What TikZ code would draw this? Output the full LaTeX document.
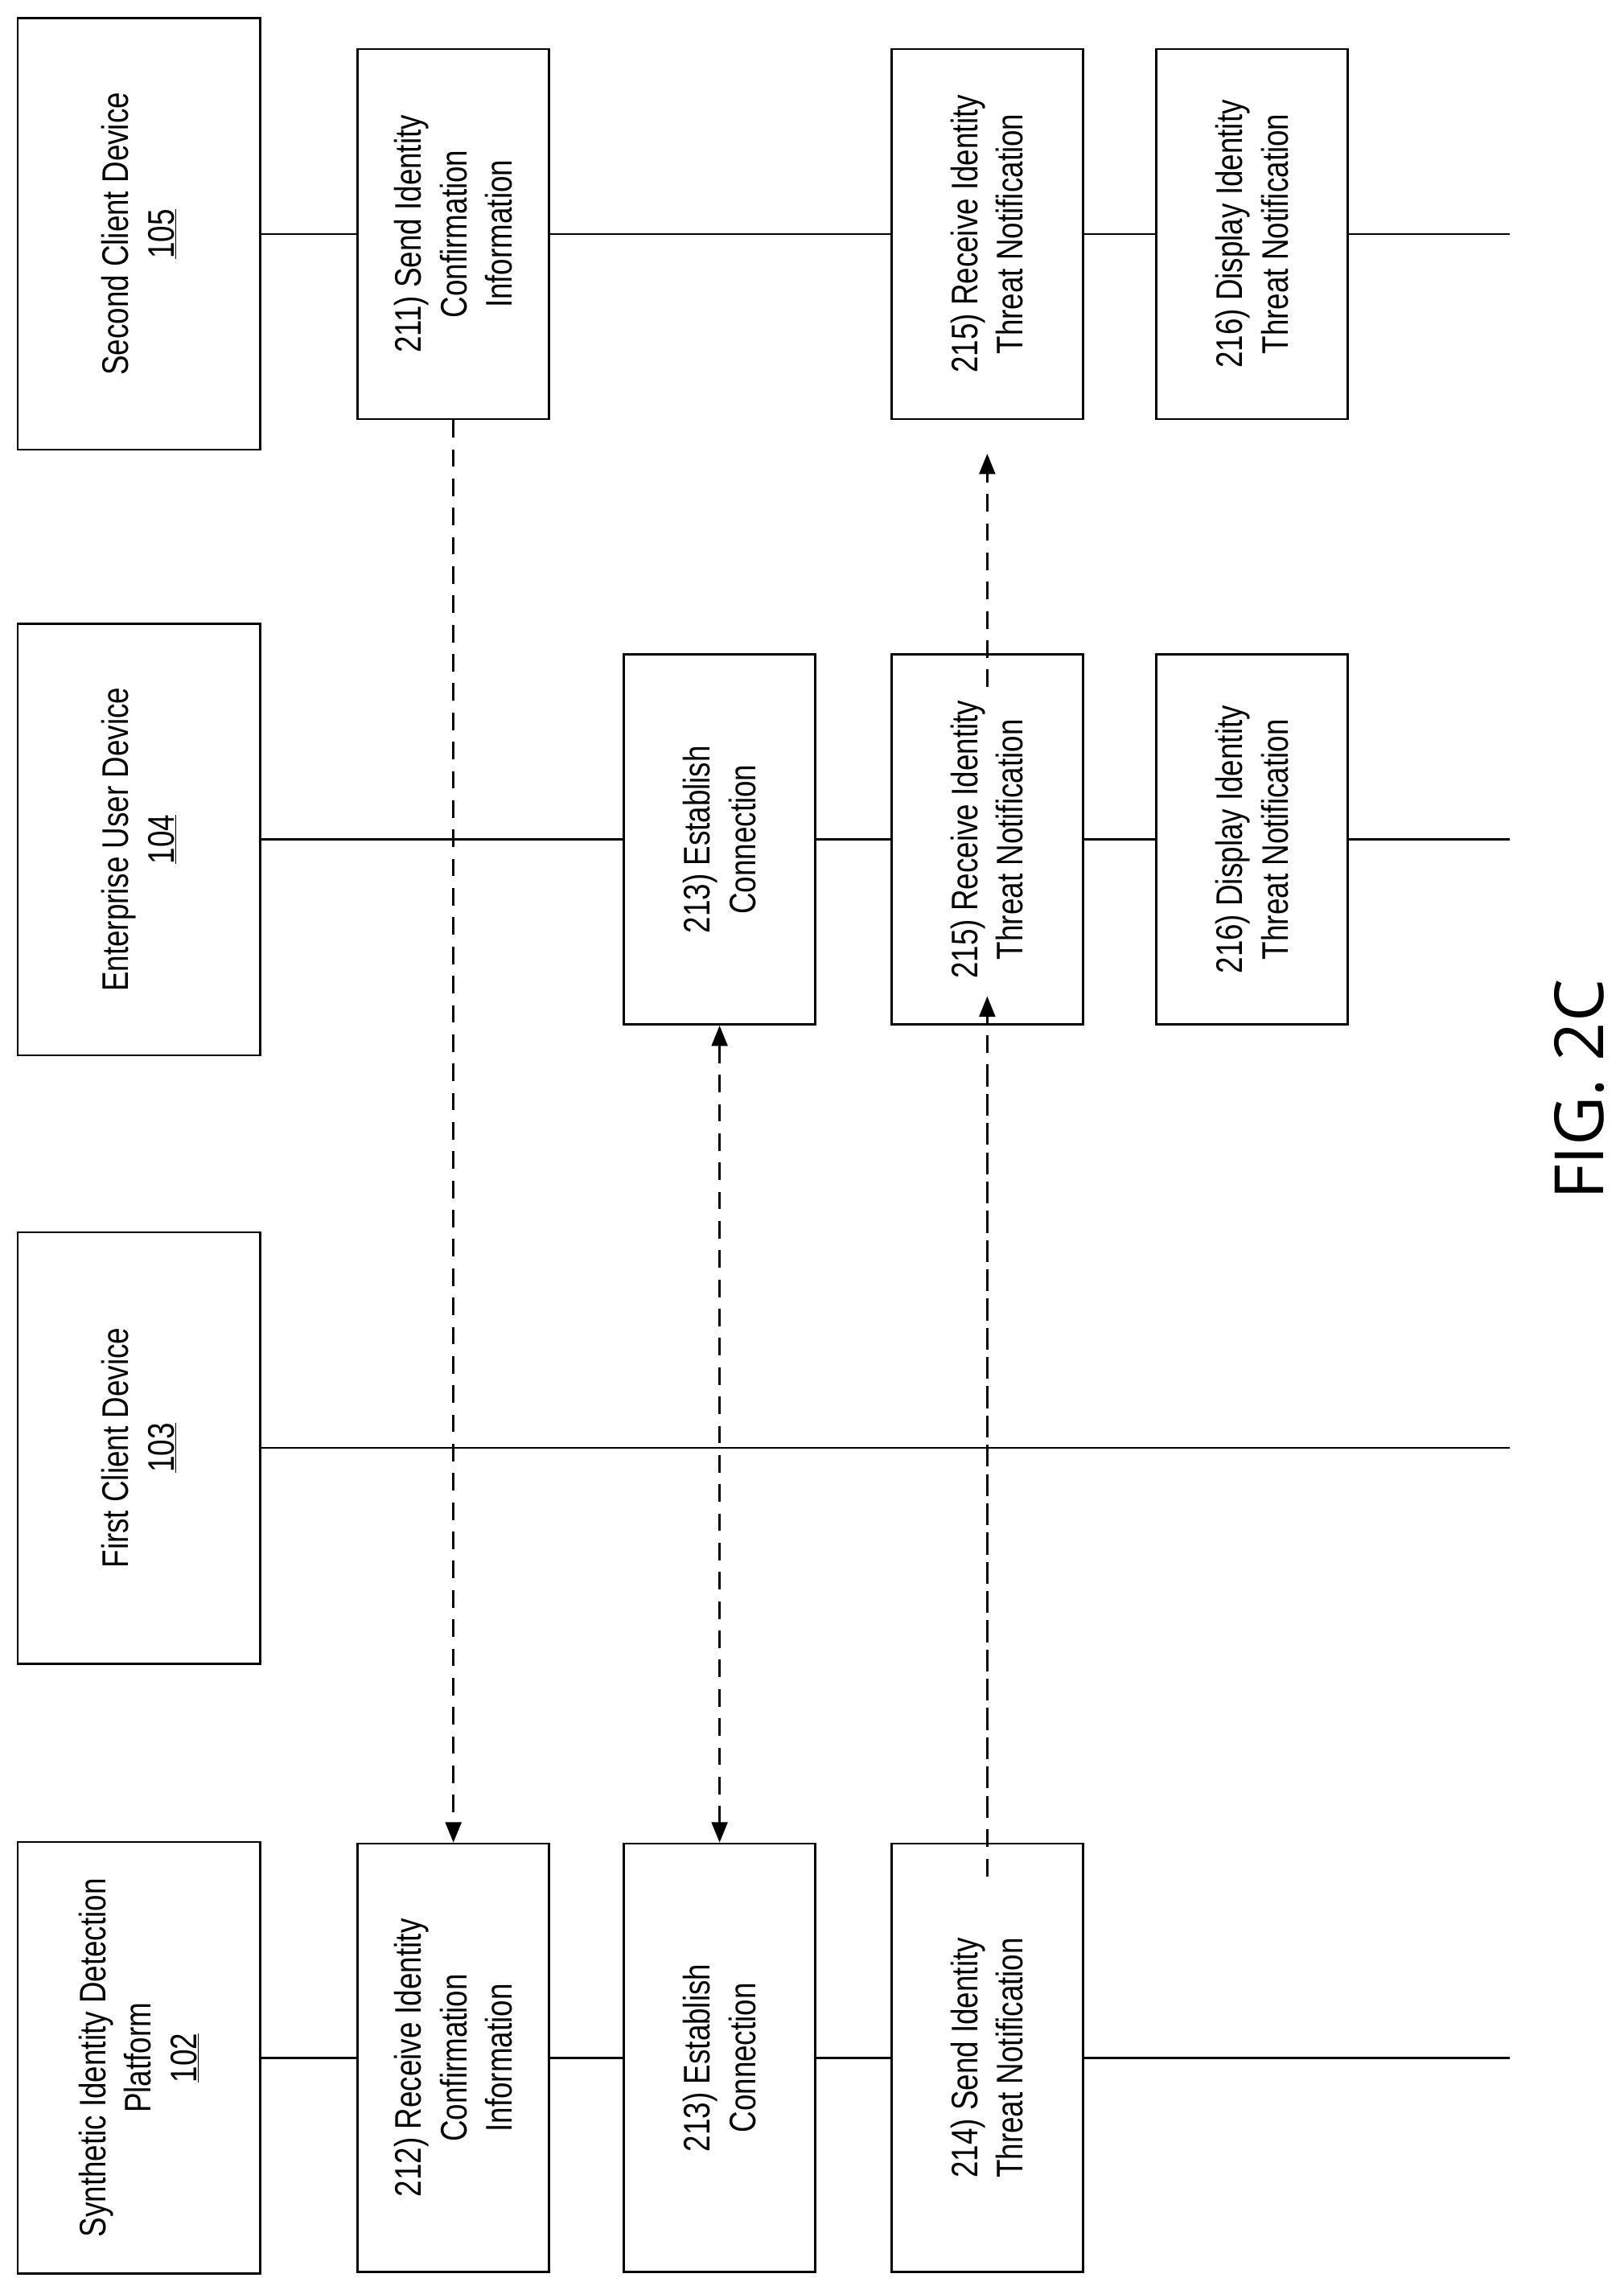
\documentclass[tikz,border=0pt]{standalone}
\usepackage{fontspec}
\setmainfont[FakeStretch=0.8]{Liberation Sans}
\newfontfamily\figfont{Open Sans}
\usetikzlibrary{arrows.meta}

\tikzset{
  dev/.style={draw, line width=2pt, fill=white, rotate=90, minimum width=14.75cm,
    minimum height=8.3cm, align=center, font=\fontsize{36}{44}\selectfont},
  act/.style={draw, line width=2pt, fill=white, rotate=90, minimum width=12.65cm,
    minimum height=6.55cm, align=center, font=\fontsize{36}{44}\selectfont},
  tall/.style={act, minimum width=14.65cm},
  life/.style={line width=2pt},
  msg/.style={line width=2pt, dash pattern=on 0.6cm off 0.4cm, -{Triangle[length=0.7cm,width=0.55cm]}},
  msgb/.style={msg, {Triangle[length=0.7cm,width=0.55cm]}-{Triangle[length=0.7cm,width=0.55cm]}},
}

\begin{document}
\begin{tikzpicture}[x=0.05cm, y=-0.05cm]
    \useasboundingbox (0,0) rectangle (1110,1563);

    % lifelines
    \coordinate (e105) at (1032,160);
    \coordinate (e104) at (1032,574);
    \coordinate (e103) at (1032,990);
    \coordinate (e102) at (1032,1407);
    \draw[life] (178,160) -- (e105);
    \draw[life] (178,574) -- (e104);
    \draw[life] (178,990) -- (e103);
    \draw[life] (178,1407) -- (e102);

    % devices
    \node[dev] (d105) at (95,160) {Second Client Device\\\underline{105}};
    \node[dev] (d104) at (95,574) {Enterprise User Device\\\underline{104}};
    \node[dev] (d103) at (95,990) {First Client Device\\\underline{103}};
    \node[dev] (d102) at (95,1407) {Synthetic Identity Detection\\Platform\\\underline{102}};

    % steps
    \node[act] (s211) at (310,160) {211) Send Identity\\Confirmation\\Information};
    \node[act] (s215b) at (675,160) {215) Receive Identity\\Threat Notification};
    \node[act] (s216b) at (856,160) {216) Display Identity\\Threat Notification};
    \node[act] (s213a) at (492,574) {213) Establish\\Connection};
    \node[act] (s215a) at (675,574) {215) Receive Identity\\Threat Notification};
    \node[act] (s216a) at (856,574) {216) Display Identity\\Threat Notification};
    \node[tall] (s212) at (310,1407) {212) Receive Identity\\Confirmation\\Information};
    \node[tall] (s213b) at (492,1407) {213) Establish\\Connection};
    \node[tall] (s214) at (675,1407) {214) Send Identity\\Threat Notification};

    % messages
    \draw[msg] (s211.west) -- (s212.east);
    \draw[msgb] (s213a.west) -- (s213b.east);
    \draw[msg] ([yshift=1cm]s214.east) -- ([yshift=1cm]s215a.west);
    \draw[line width=2pt, dash pattern=on 0.6cm off 0.4cm] ([yshift=-1.15cm]s214.east) -- ([yshift=-1.15cm]s215a.west);
    \draw[msg] ([yshift=-1.15cm]s215a.east) -- ([yshift=-1.15cm]s215b.west);

    \node[rotate=90, font=\figfont\fontsize{66}{70}\selectfont] (fig) at (1080,745) {FIG. 2C};
\end{tikzpicture}
\end{document}
